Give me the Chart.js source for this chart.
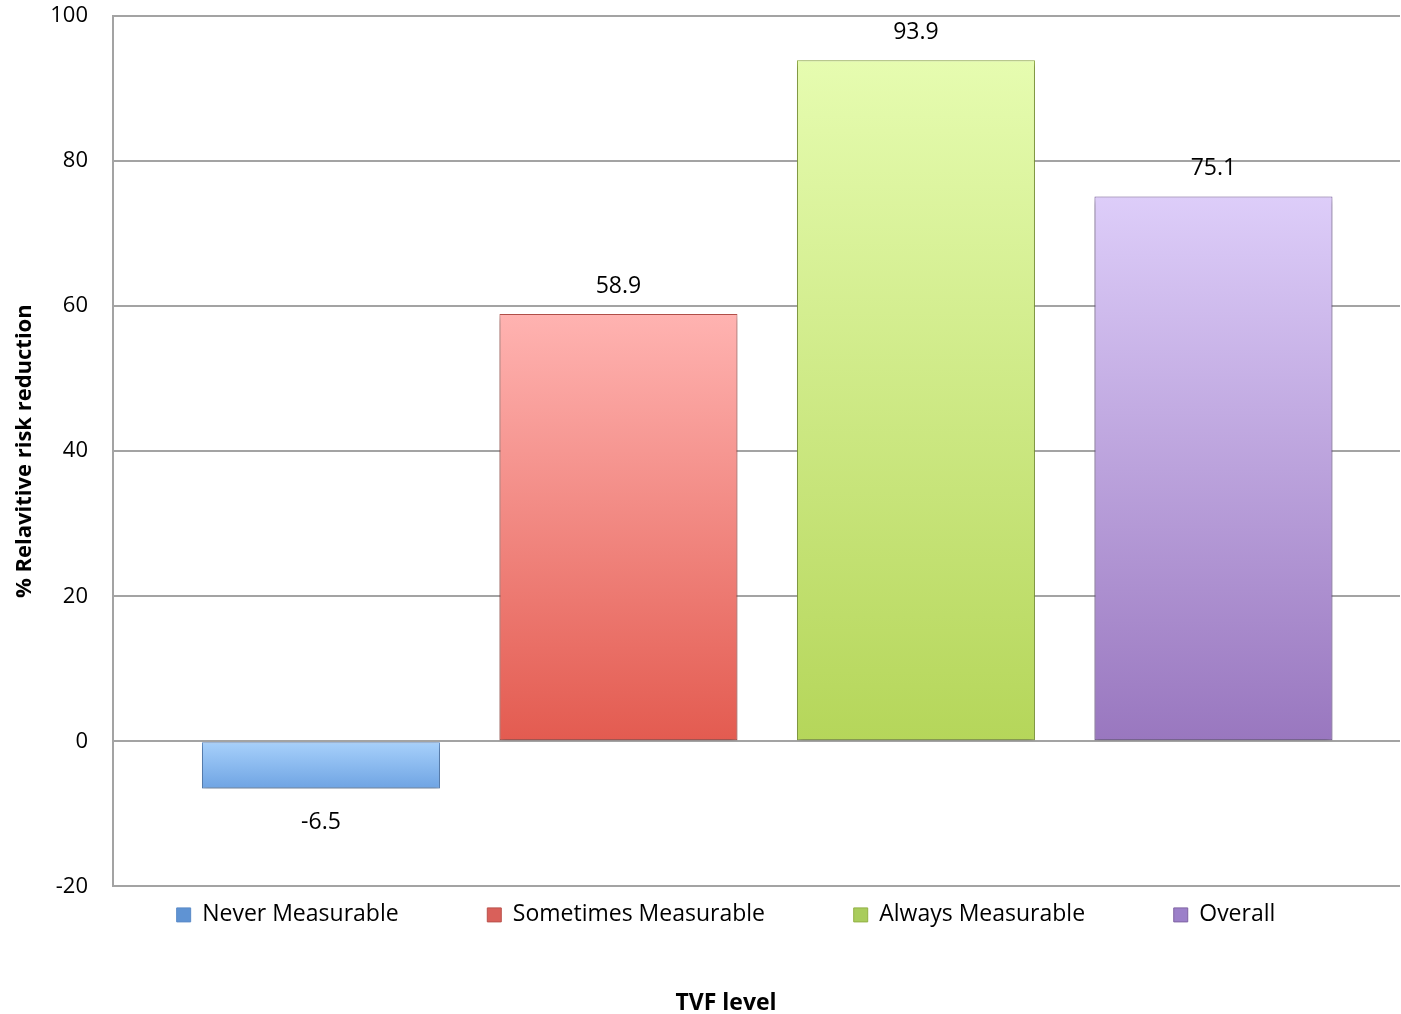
<!DOCTYPE html>
<html>
<head>
<meta charset="utf-8">
<script src="https://cdn.jsdelivr.net/npm/chart.js@4.4.1/dist/chart.umd.min.js"></script>
<style>
  html, body { margin: 0; padding: 0; background: #fff; }
  #wrap { width: 1401px; height: 1014px; }
</style>
</head>
<body>
<div id="wrap"><canvas id="chart"></canvas></div>
<script>
const CATEGORIES = ['Never Measurable', 'Sometimes Measurable', 'Always Measurable', 'Overall'];
const VALUES = [-6.5, 58.9, 93.9, 75.1];
const Y_TICKS = [-20, 0, 20, 40, 60, 80, 100];

// top / bottom of each bar's gradient, plus edge and legend swatch colours
const TOP_COLORS = ['#a8d1fb', '#ffb3b1', '#e6fcb0', '#ddcdf9'];
const BOTTOM_COLORS = ['#6fa4e3', '#e35b50', '#b5d65a', '#9977bf'];
const EDGE_COLORS = ['#5b8bc8', '#b9524c', '#93b044', '#7f63a3'];
const SWATCH_COLORS = ['#5f93d3', '#d9605a', '#a9cc5c', '#9c80c9'];

const FONT = '"Open Sans", "Liberation Sans", sans-serif';

function barGradient(ctx) {
  const chart = ctx.chart;
  const y = chart.scales.y;
  const i = ctx.dataIndex;
  if (ctx.type !== 'data' || !y || !chart.chartArea) return BOTTOM_COLORS[i] || '#999';
  const v = VALUES[i];
  const top = y.getPixelForValue(Math.max(v, 0));
  const bot = y.getPixelForValue(Math.min(v, 0));
  const g = chart.ctx.createLinearGradient(0, top, 0, bot);
  g.addColorStop(0, TOP_COLORS[i]);
  g.addColorStop(1, BOTTOM_COLORS[i]);
  return g;
}

const barShadow = {
  id: 'barShadow',
  beforeDatasetsDraw(chart) {
    const c = chart.ctx;
    c.save();
    c.shadowColor = 'rgba(0,0,0,0.4)';
    c.shadowBlur = 6;
    c.shadowOffsetY = 3;
  },
  afterDatasetsDraw(chart) {
    chart.ctx.restore();
  },
};

const valueLabels = {
  id: 'valueLabels',
  afterDatasetsDraw(chart) {
    const c = chart.ctx;
    const meta = chart.getDatasetMeta(0);
    c.save();
    c.font = `23px ${FONT}`;
    c.fillStyle = '#000';
    c.textAlign = 'center';
    c.textBaseline = 'middle';
    meta.data.forEach((bar, i) => {
      const v = VALUES[i];
      const ty = v >= 0 ? bar.y - 28 : bar.y + 34;
      c.fillText(v.toFixed(1), bar.x, ty);
    });
    c.restore();
  },
};

// trailing no-break spaces widen the gap between legend entries
const GAP = '\u00a0'.repeat(12);

new Chart(document.getElementById('chart'), {
  type: 'bar',
  data: {
    datasets: [
      {
        data: VALUES.map((v, i) => ({ x: i, y: v })),
        backgroundColor: barGradient,
        borderColor: EDGE_COLORS,
        borderWidth: 1,
        borderSkipped: false,
        categoryPercentage: 1,
        barPercentage: 0.8,
      },
    ],
  },
  options: {
    responsive: true,
    maintainAspectRatio: false,
    animation: false,
    layout: { padding: { top: 16, right: 1, bottom: 0, left: 52 } },
    scales: {
      x: {
        type: 'linear',
        display: false,
        offset: false,
        min: -0.699,
        max: 3.627,
        afterBuildTicks(scale) {
          scale.ticks = CATEGORIES.map((_, i) => ({ value: i }));
        },
      },
      y: {
        min: -20,
        max: 100,
        afterBuildTicks(scale) {
          scale.ticks = Y_TICKS.map((v) => ({ value: v }));
        },
        afterFit(scale) {
          scale.width = 61;
        },
        grid: { color: '#a3a3a3', lineWidth: 2, drawTicks: true, tickLength: 25, tickColor: 'rgba(0,0,0,0)' },
        border: { display: true, color: '#a3a3a3', width: 2 },
        ticks: { padding: 0, color: '#000', font: { family: FONT, size: 22 } },
        title: {
          display: true,
          text: '% Relavitive risk reduction',
          color: '#000',
          font: { family: FONT, size: 22, weight: 'bold' },
          padding: { top: -40, bottom: 0 },
        },
      },
    },
    plugins: {
      tooltip: { enabled: false },
      legend: {
        position: 'bottom',
        labels: {
          padding: 17,
          boxWidth: 14,
          boxHeight: 14,
          color: '#000',
          font: { family: FONT, size: 23 },
          generateLabels() {
            return CATEGORIES.map((name, i) => ({
              text: i < CATEGORIES.length - 1 ? name + GAP : name,
              fillStyle: SWATCH_COLORS[i],
              strokeStyle: EDGE_COLORS[i],
              lineWidth: 1,
              fontColor: '#000',
              index: i,
            }));
          },
        },
      },
      title: {
        display: true,
        position: 'bottom',
        text: 'TVF level',
        color: '#000',
        font: { family: FONT, size: 23, weight: 'bold' },
        padding: { top: 53, bottom: -3 },
      },
    },
  },
  plugins: [barShadow, valueLabels],
});
</script>
</body>
</html>
